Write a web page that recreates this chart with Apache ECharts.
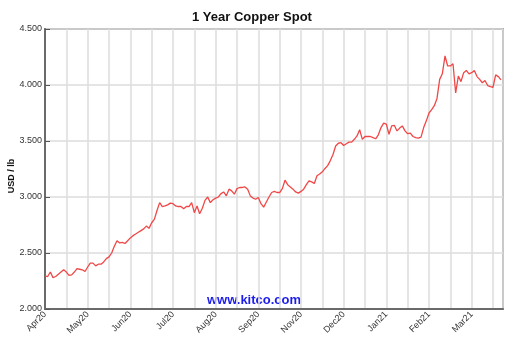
<!DOCTYPE html>
<html>
<head>
<meta charset="utf-8">
<script src="https://cdn.jsdelivr.net/npm/echarts@6/dist/echarts.min.js"></script>
<style>html,body{margin:0;padding:0;background:#fff}#c{width:521px;height:343px}</style>
</head>
<body>
<div id="c"></div>
<script>
// Month tick labels (as printed on the reference, one every second grid line)
const xLabels = ['Apr20','May20','Jun20','Jul20','Aug20','Sep20','Nov20','Dec20','Jan21','Feb21','Mar21'];
// Copper spot price, USD / lb (roughly two samples per week)
const prices = [
2.295,2.29,2.33,2.28,2.29,2.31,2.33,2.35,2.33,2.30,
2.305,2.33,2.36,2.355,2.35,2.335,2.375,2.41,2.41,2.385,
2.40,2.40,2.42,2.45,2.465,2.50,2.56,2.61,2.59,2.595,
2.585,2.61,2.635,2.655,2.67,2.685,2.70,2.715,2.74,2.72,
2.77,2.80,2.88,2.95,2.915,2.92,2.93,2.945,2.94,2.92,
2.915,2.915,2.895,2.915,2.915,2.95,2.86,2.92,2.85,2.90,
2.97,3.00,2.95,2.975,2.99,3.00,3.03,3.045,3.01,3.07,
3.055,3.025,3.075,3.085,3.085,3.09,3.07,3.01,2.99,2.98,
2.995,2.94,2.91,2.955,3.00,3.04,3.05,3.04,3.04,3.075,
3.15,3.11,3.09,3.07,3.045,3.035,3.05,3.07,3.11,3.145,
3.135,3.12,3.19,3.205,3.225,3.255,3.28,3.325,3.38,3.455,
3.48,3.485,3.46,3.475,3.49,3.49,3.515,3.545,3.60,3.515,
3.54,3.54,3.54,3.53,3.52,3.555,3.62,3.66,3.65,3.56,
3.635,3.64,3.59,3.615,3.635,3.59,3.565,3.57,3.54,3.53,
3.525,3.535,3.62,3.68,3.75,3.78,3.815,3.88,4.05,4.10,
4.26,4.17,4.17,4.19,3.93,4.08,4.03,4.11,4.13,4.10,
4.11,4.13,4.075,4.05,4.02,4.04,3.995,3.985,3.98,4.09,
4.075,4.045
];
const title = '1 Year Copper Spot';
const yName = 'USD / lb';
const watermark = 'www.kitco.com';

const seriesData = prices.map((v, i) => [i, v]);
const chart = echarts.init(document.getElementById('c'), null, {renderer: 'canvas'});
chart.setOption({
  animation: false,
  backgroundColor: '#ffffff',
  title: {
    text: title, left: 192, top: 11, padding: 0,
    textStyle: {fontFamily: 'Liberation Sans, Arial, sans-serif', fontSize: 13, fontWeight: 'bold', color: '#111'}
  },
  grid: {left: 45, right: 18, top: 29, bottom: 34, show: true, borderColor: '#6a6a6a', borderWidth: 1.5, backgroundColor: 'transparent'},
  xAxis: {
    type: 'value', min: 0, max: 171.75, interval: 8,
    axisLine: {show: true, lineStyle: {color: '#6a6a6a', width: 2}},
    axisTick: {show: false},
    splitLine: {show: true, lineStyle: {color: '#dcdcdc', width: 1.5}},
    axisLabel: {
      rotate: 45, margin: 4, fontSize: 9, color: '#333',
      fontFamily: 'Liberation Sans, Arial, sans-serif',
      showMaxLabel: false,
      formatter: function (v) {
        if (Math.abs(v % 16) < 1e-6) { const k = Math.round(v / 16); return xLabels[k] || ''; }
        return '';
      }
    }
  },
  yAxis: {
    type: 'value', min: 2.0, max: 4.5, interval: 0.5,
    axisLine: {show: true, lineStyle: {color: '#6a6a6a', width: 2}},
    axisTick: {show: true, inside: true, length: 5, lineStyle: {color: '#555', width: 1}},
    splitLine: {show: true, lineStyle: {color: '#dcdcdc', width: 1.5}},
    axisLabel: {
      fontSize: 9, color: '#333', margin: 3,
      fontFamily: 'Liberation Sans, Arial, sans-serif',
      formatter: function (v) { return v.toFixed(3); }
    }
  },
  graphic: [
    {type: 'text', left: 6, top: 164, rotation: Math.PI / 2,
     style: {text: yName, font: 'bold 9px Liberation Sans, Arial, sans-serif', fill: '#111', align: 'center', verticalAlign: 'middle'},
     x: 11.5, y: 176, left: null, top: null},
    {type: 'text', x: 254, y: 300,
     style: {text: watermark, font: 'bold 13px Liberation Sans, Arial, sans-serif', fill: '#1c1cec', align: 'center', verticalAlign: 'middle'}}
  ],
  series: [{
    type: 'line', data: seriesData, showSymbol: false, symbol: 'none',
    lineStyle: {color: '#f04848', width: 1.3}, clip: true
  }]
});
</script>
</body>
</html>
